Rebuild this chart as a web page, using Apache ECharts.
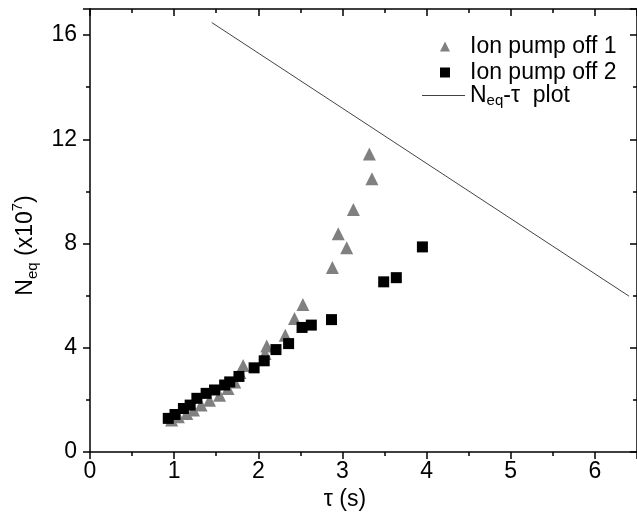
<!DOCTYPE html>
<html>
<head>
<meta charset="utf-8">
<script src="https://cdn.jsdelivr.net/npm/echarts@6/dist/echarts.min.js"></script>
<style>
  html, body { margin: 0; padding: 0; background: #fff; }
  #chart { width: 637px; height: 523px; }
</style>
</head>
<body>
<div id="chart"></div>
<script>
// Ion pump off 1 (triangles)
const tau1 = [0.97, 1.05, 1.15, 1.23, 1.32, 1.42, 1.54, 1.64, 1.72, 1.78, 1.82, 2.08, 2.10, 2.32, 2.43, 2.53, 2.88, 2.95, 3.05, 3.13, 3.32, 3.35];
const neq1 = [1.23, 1.35, 1.48, 1.61, 1.80, 1.99, 2.18, 2.44, 2.69, 3.05, 3.32, 3.78, 4.07, 4.48, 5.12, 5.66, 7.08, 8.38, 7.84, 9.31, 11.44, 10.49];

// Ion pump off 2 (squares)
const tau2 = [0.93, 1.01, 1.11, 1.19, 1.27, 1.38, 1.48, 1.60, 1.66, 1.77, 1.95, 2.07, 2.21, 2.36, 2.52, 2.63, 2.87, 3.49, 3.64, 3.95];
const neq2 = [1.29, 1.44, 1.67, 1.80, 2.06, 2.25, 2.38, 2.57, 2.69, 2.90, 3.23, 3.50, 3.93, 4.16, 4.78, 4.87, 5.08, 6.53, 6.69, 7.87];

// Neq-tau plot line
const tauLine = [1.447, 6.405];
const neqLine = [16.48, 5.98];

const seriesNames = ['Ion pump off 1', 'Ion pump off 2', 'Neq-τ plot'];

const zip = (xs, ys) => xs.map((x, i) => [x, ys[i]]);

const font = 'Liberation Sans, Arial, sans-serif';
const axisColor = '#000';

const tickStyle = { color: axisColor, width: 1.5 };

const baseX = {
  type: 'value',
  min: 0,
  max: 6.5,
  interval: 1,
  splitLine: { show: false },
  minorTick: { show: true, splitNumber: 2, length: 4, lineStyle: tickStyle },
  axisTick: { length: 7, lineStyle: tickStyle },
  axisLine: { onZero: false, lineStyle: tickStyle }
};
const baseY = {
  type: 'value',
  min: 0,
  max: 17,
  interval: 4,
  splitLine: { show: false },
  minorTick: { show: true, splitNumber: 2, length: 4, lineStyle: tickStyle },
  axisTick: { length: 7, lineStyle: tickStyle },
  axisLine: { onZero: false, lineStyle: tickStyle }
};

const chart = echarts.init(document.getElementById('chart'));

chart.setOption({
  animation: false,
  backgroundColor: '#fff',
  grid: { left: 90, top: 9, width: 548, bottom: 71 },
  legend: [
    {
      // marker entries
      orient: 'vertical',
      left: 435,
      top: 30,
      itemWidth: 10,
      itemHeight: 10,
      itemGap: 3,
      data: [
        { name: seriesNames[0], icon: 'triangle' },
        { name: seriesNames[1], icon: 'rect' }
      ],
      textStyle: { fontFamily: font, fontSize: 23, color: '#000', padding: [0, 0, 0, 15] }
    },
    {
      // line entry
      orient: 'vertical',
      left: 417,
      top: 79,
      itemWidth: 43,
      itemHeight: 10,
      data: [
        { name: seriesNames[2], icon: 'path://M0,0L43,0L43,1L0,1Z', itemStyle: { color: '#444' } }
      ],
      formatter: () => '{t|N}{sub|eq}{t|-τ  plot}',
      textStyle: {
        fontFamily: font,
        fontSize: 23,
        color: '#000',
        rich: {
          t: { fontFamily: font, fontSize: 23, color: '#000', lineHeight: 26 },
          sub: { fontFamily: font, fontSize: 15, color: '#000', verticalAlign: 'bottom', lineHeight: 26 }
        }
      }
    }
  ],
  xAxis: [
    Object.assign({}, baseX, {
      position: 'bottom',
      name: 'τ (s)',
      nameLocation: 'middle',
      nameGap: 34,
      nameTextStyle: { fontFamily: font, fontSize: 23, color: '#000', padding: [0, 37, 0, 0] },
      axisLabel: { margin: 8, fontFamily: font, fontSize: 23, color: '#000', showMaxLabel: false }
    }),
    Object.assign({}, baseX, {
      position: 'top',
      axisTick: { inside: true, length: 7, lineStyle: tickStyle },
      minorTick: { show: true, splitNumber: 2, length: 4, lineStyle: tickStyle },
      axisLabel: { show: false }
    })
  ],
  yAxis: [
    Object.assign({}, baseY, {
      position: 'left',
      name: '{t|N}{sub|eq}{t| (x10}{sup|7}{t|)}',
      nameLocation: 'middle',
      nameGap: 46,
      nameRotate: 90,
      nameTextStyle: {
        fontFamily: font,
        fontSize: 23,
        color: '#000',
        padding: [0, 30, 0, 0],
        rich: {
          t: { fontFamily: font, fontSize: 23, color: '#000', lineHeight: 30 },
          sub: { fontFamily: font, fontSize: 15, color: '#000', verticalAlign: 'bottom', lineHeight: 30 },
          sup: { fontFamily: font, fontSize: 15, color: '#000', verticalAlign: 'top', lineHeight: 30 }
        }
      },
      axisLabel: { margin: 13, fontFamily: font, fontSize: 23, color: '#000', showMaxLabel: false }
    }),
    Object.assign({}, baseY, {
      position: 'right',
      axisTick: { inside: true, length: 7, lineStyle: tickStyle },
      minorTick: { show: true, splitNumber: 2, length: 4, lineStyle: tickStyle },
      axisLabel: { show: false }
    })
  ],
  series: [
    {
      name: seriesNames[0],
      type: 'scatter',
      symbol: 'triangle',
      symbolSize: 13,
      itemStyle: { color: '#808080', opacity: 1 },
      data: zip(tau1, neq1)
    },
    {
      name: seriesNames[1],
      type: 'scatter',
      symbol: 'rect',
      symbolSize: 11,
      itemStyle: { color: '#000', opacity: 1 },
      data: zip(tau2, neq2)
    },
    {
      name: seriesNames[2],
      type: 'line',
      symbol: 'none',
      itemStyle: { color: '#444' },
      lineStyle: { color: '#444', width: 1 },
      data: zip(tauLine, neqLine)
    }
  ]
});
</script>
</body>
</html>
